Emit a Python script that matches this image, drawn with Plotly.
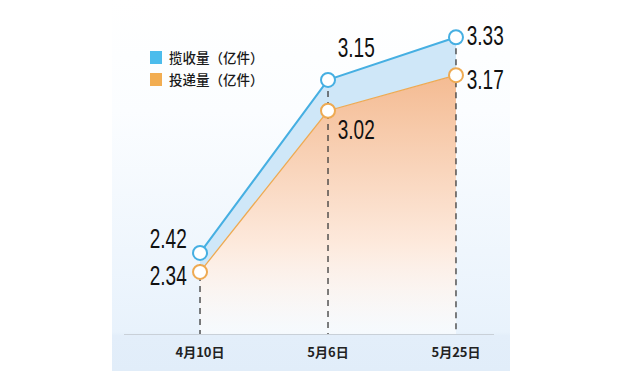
import base64
import plotly.graph_objects as go

categories = ["4月10日", "5月6日", "5月25日"]
collect = [2.42, 3.15, 3.33]     # 揽收量（亿件）
deliver = [2.34, 3.02, 3.17]     # 投递量（亿件）
name_collect = "揽收量（亿件）"
name_deliver = "投递量（亿件）"

Y_MIN, Y_MAX = 2.078, 3.445
BLUE = "#46afe2"
ORANGE = "#eeaa52"
NUM_FONT = "Liberation Sans, Arial, sans-serif"
CJK_FONT = "Noto Sans CJK SC, sans-serif"

# plot area in pixels: x 124..494, y 10..334
def px(x):
    return (x - 124) / 370

def py(y):
    return (334 - y) / 324

svg = """<svg xmlns='http://www.w3.org/2000/svg' width='398' height='371' viewBox='0 0 398 371' preserveAspectRatio='none'>
<defs><linearGradient id='g' x1='0' y1='0' x2='0' y2='1'>
<stop offset='0' stop-color='#ffffff'/>
<stop offset='0.3' stop-color='#fbfdff'/>
<stop offset='0.895' stop-color='#e8f2fc'/>
<stop offset='0.905' stop-color='#e3eefa'/>
<stop offset='1' stop-color='#e1edf9'/>
</linearGradient></defs>
<rect x='0' y='0' width='398' height='371' fill='url(#g)'/></svg>"""
svg_uri = "data:image/svg+xml;base64," + base64.b64encode(svg.encode()).decode()

fig = go.Figure()

# orange gradient area
fig.add_trace(go.Scatter(
    x=categories, y=deliver, mode="lines", line=dict(width=0),
    fill="tozeroy",
    fillgradient=dict(type="vertical",
                      colorscale=[[0, "rgba(255,255,255,0.6)"], [0.35, "#fde9dc"], [1, "#f4bb92"]],
                      start=Y_MIN, stop=max(deliver)),
    showlegend=False, hoverinfo="skip"))
# blue band between lines
fig.add_trace(go.Scatter(
    x=categories, y=collect, mode="lines", line=dict(width=0),
    fill="tonexty", fillcolor="#cfe7f8",
    showlegend=False, hoverinfo="skip"))

# dashed drop lines
for c, v in zip(categories, collect):
    fig.add_trace(go.Scatter(
        x=[c, c], y=[v, 0], mode="lines",
        line=dict(color="#3a3a3a", width=1.3, dash="6px,5px"),
        showlegend=False, hoverinfo="skip"))

# lines with markers
fig.add_trace(go.Scatter(
    x=categories, y=deliver, mode="lines+markers", name=name_deliver,
    line=dict(color=ORANGE, width=1.3),
    marker=dict(size=14, color="white", line=dict(color=ORANGE, width=2)),
    showlegend=False, cliponaxis=False))
fig.add_trace(go.Scatter(
    x=categories, y=collect, mode="lines+markers", name=name_collect,
    line=dict(color=BLUE, width=2),
    marker=dict(size=14, color="white", line=dict(color=BLUE, width=2)),
    showlegend=False, cliponaxis=False))

# value labels
offsets_collect = [(-32, 14), (28, 32), (30, 2)]
offsets_deliver = [(-32, -4), (28, -19), (30, -4)]
for vals, offs in ((collect, offsets_collect), (deliver, offsets_deliver)):
    for c, v, (dx, dy) in zip(categories, vals, offs):
        fig.add_annotation(x=c, y=v, text=f"{v:.2f}", showarrow=False,
                           xshift=dx, yshift=dy,
                           font=dict(family=NUM_FONT, size=28, color="#111111"))

# legend (squares + labels)
for name, color, top in ((name_collect, "#4cbcec", 51), (name_deliver, "#f2ad52", 73)):
    fig.add_shape(type="rect", xref="paper", yref="paper",
                  x0=px(150), x1=px(162), y0=py(top + 13), y1=py(top),
                  fillcolor=color, line=dict(width=0))
    fig.add_annotation(xref="paper", yref="paper", x=px(167), y=py(top + 6.5),
                       xanchor="left", yanchor="middle", showarrow=False,
                       text=name, font=dict(family=CJK_FONT, size=13.5, color="#1a1a1a",
                                            weight=500))

fig.add_layout_image(dict(source=svg_uri, xref="paper", yref="paper",
                          x=px(112), y=py(0),
                          sizex=398 / 370, sizey=371 / 324,
                          sizing="stretch", xanchor="left", yanchor="top",
                          layer="below"))

fig.update_layout(
    width=632, height=371,
    margin=dict(l=124, r=138, t=10, b=37),
    paper_bgcolor="white", plot_bgcolor="rgba(0,0,0,0)",
    showlegend=False,
    xaxis=dict(type="category", range=[-0.594, 2.297], showgrid=False, zeroline=False,
               showline=True, linecolor="#c9d0d8", linewidth=1, ticks="",
               ticklabelstandoff=6,
               tickfont=dict(family=CJK_FONT, size=13, color="#222222", weight="bold"),
               fixedrange=True),
    yaxis=dict(range=[Y_MIN, Y_MAX], showgrid=False, zeroline=False, showticklabels=False,
               fixedrange=True),
)

post = """
document.body.style.margin='0';
var gd = document.getElementById('{plot_id}');
gd.querySelectorAll('text.annotation-text').forEach(function(t){
  if (/^[0-9.]+$/.test(t.textContent)) {
    var bb = t.getBBox();
    var cx = bb.x + bb.width / 2;
    t.setAttribute('transform', 'translate(' + cx + ',0) scale(0.68,1) translate(' + (-cx) + ',0)');
  }
});
"""

fig.write_html("out.html", post_script=post, config={"displayModeBar": False})
